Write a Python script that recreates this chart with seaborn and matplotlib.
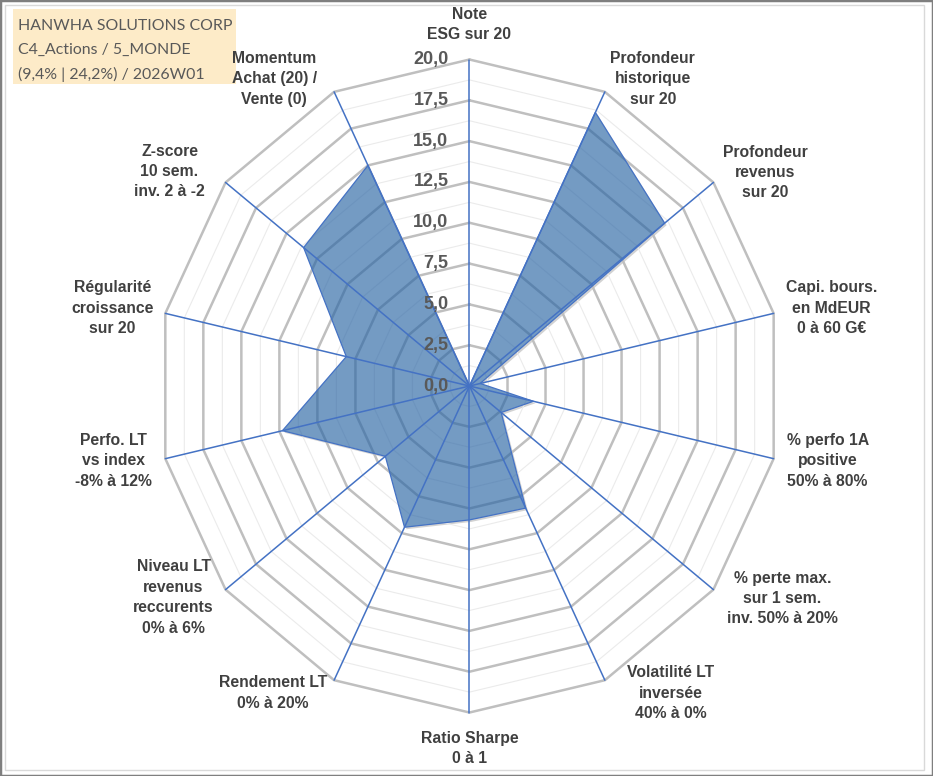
import numpy as np
import matplotlib
matplotlib.use("Agg")
import matplotlib.pyplot as plt
import matplotlib.transforms as mtransforms
from matplotlib.patches import Rectangle
import seaborn as sns

# Data
categories = [
    "Note\nESG sur 20",
    "Profondeur\nhistorique\nsur 20",
    "Profondeur\nrevenus\nsur 20",
    "Capi. bours.\nen MdEUR\n0 à 60 G€",
    "% perfo 1A\npositive\n50% à 80%",
    "% perte max.\nsur 1 sem.\ninv. 50% à 20%",
    "Volatilité LT\ninversée\n40% à 0%",
    "Ratio Sharpe\n0 à 1",
    "Rendement LT\n0% à 20%",
    "Niveau LT\nrevenus\nreccurents\n0% à 6%",
    "Perfo. LT\nvs index\n-8% à 12%",
    "Régularité\ncroissance\nsur 20",
    "Z-score\n10 sem.\ninv. 2 à -2",
    "Momentum\nAchat (20) /\nVente (0)",
]
scores = [0.0, 18.6, 16.0, 0.7, 4.2, 2.6, 8.3, 8.2, 9.6, 6.9, 12.3, 8.1, 13.6, 15.0]
major_ticks = [0, 2.5, 5, 7.5, 10, 12.5, 15, 17.5, 20]
minor_ticks = [1.25, 3.75, 6.25, 8.75, 11.25, 13.75, 16.25, 18.75]
title_lines = ["HANWHA SOLUTIONS CORP", "C4_Actions / 5_MONDE", "(9,4% | 24,2%) / 2026W01"]

# label offsets from the outer vertex (pixels)
label_offsets = [(0, 35), (48, 13), (52, 10), (58, 5), (54, -2), (69, -9), (66, -13),
                 (0, -36), (-61, -13), (-52, -8), (-52, -2), (-53, 5), (-56, 11), (-60, 13)]

spoke_color = "#4472C4"
ring_color = "#BFBFBF"
minor_color = "#EBEBEB"
text_color = "#404040"
tick_color = "#595959"

sns.set_style("white")
plt.rcParams["font.family"] = ["Liberation Sans", "DejaVu Sans"]

n = len(categories)
angles = np.linspace(0, 2 * np.pi, n, endpoint=False)
closed_angles = np.append(angles, angles[0])
closed_scores = scores + [scores[0]]

fig = plt.figure(figsize=(9.33, 7.76), dpi=100)
ax = fig.add_axes([0.1688, 0.0818, 0.6688, 0.8415], projection="polar")
ax.set_theta_zero_location("N")
ax.set_theta_direction(-1)
ax.set_ylim(0, 20)
ax.axis("off")
ax.set_aspect("auto")

# soft shadow under the data polygon, knocked out inside by a white copy
shadow_tr = mtransforms.offset_copy(ax.transData, fig=fig, x=2, y=-2, units="dots")
ax.fill(closed_angles, closed_scores, color="#7F7F7F", alpha=0.35, lw=0,
        zorder=0.5, transform=shadow_tr)
ax.fill(closed_angles, closed_scores, color="white", lw=0, zorder=0.6)

# rings
for r in minor_ticks:
    ax.plot(closed_angles, [r] * (n + 1), color=minor_color, lw=0.8, zorder=1, clip_on=False)
for r in major_ticks[1:]:
    ax.plot(closed_angles, [r] * (n + 1), color=ring_color, lw=1.8, zorder=1.1, clip_on=False)

# data polygon
ax.fill(closed_angles, closed_scores, color="#2965A4", alpha=0.65, zorder=2, lw=0)
sns.lineplot(x=closed_angles, y=closed_scores, sort=False, ax=ax, color=spoke_color,
             lw=0.9, zorder=3, estimator=None)

# spokes
for a in angles:
    ax.plot([a, a], [0, 20], color=spoke_color, lw=1.1, zorder=3.5, clip_on=False)

# tick labels
for r in major_ticks:
    ax.annotate(f"{r:.1f}".replace(".", ","), xy=(0, r), xytext=(-21, 0),
                textcoords="offset pixels", ha="right", va="center",
                fontsize=13, fontweight="bold", color=tick_color, zorder=5,
                annotation_clip=False)

# category labels
for a, lab, off in zip(angles, categories, label_offsets):
    ax.annotate(lab, xy=(a, 20), xytext=off, textcoords="offset pixels",
                ha="center", va="center", multialignment="center",
                fontsize=11.3, fontweight="bold", color=text_color,
                linespacing=1.45, annotation_clip=False)

# title box
fig.add_artist(Rectangle((13 / 933, 1 - 84 / 776), 223 / 933, 75 / 776,
                         transform=fig.transFigure, facecolor="#FDEBC8", edgecolor="none", zorder=0))
for i, t in enumerate(title_lines):
    fig.text(18 / 933, 1 - (26 + i * 24) / 776, t, ha="left", va="center",
             fontsize=11.4, color=tick_color, family=["Lato", "DejaVu Sans"])

# frames
fig.add_artist(Rectangle((5 / 933, 1 - 770 / 776), 919 / 933, 765 / 776,
                         transform=fig.transFigure, fill=False, edgecolor="#D9D9D9", lw=1))
fig.add_artist(Rectangle((0, 0), 1, 1, transform=fig.transFigure, fill=False,
                         edgecolor="#7F7F7F", lw=2.5))

fig.savefig("out.png", dpi=100)
